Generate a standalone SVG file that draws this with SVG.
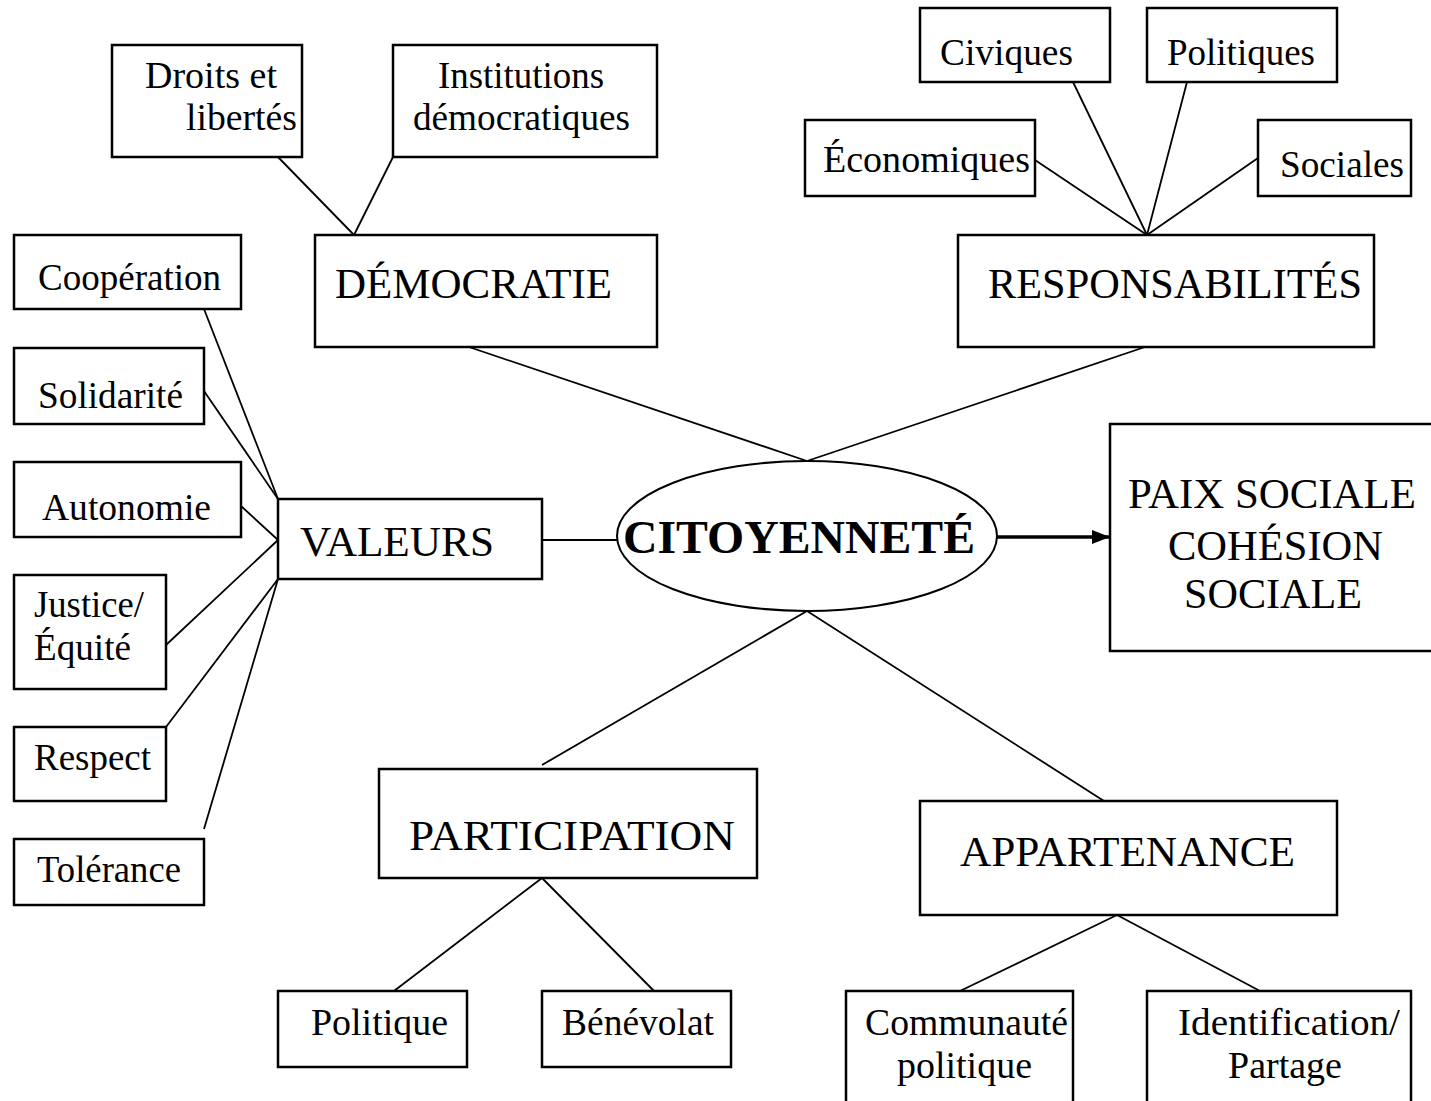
<svg xmlns="http://www.w3.org/2000/svg" width="1431" height="1101" viewBox="0 0 1431 1101">
<style>
.box{fill:#fff;stroke:#000;stroke-width:2.5}
.t{font-family:"Liberation Serif","Times New Roman",serif;font-size:38px;fill:#000}
.c{font-family:"Liberation Serif","Times New Roman",serif;font-size:42px;fill:#000}
.b{font-family:"Liberation Serif","Times New Roman",serif;font-size:46px;font-weight:bold;fill:#000}
.ln{stroke:#000;stroke-width:1.8;fill:none}
</style>
<defs>
<marker id="ah" markerWidth="18" markerHeight="14" refX="18" refY="7" orient="auto" markerUnits="userSpaceOnUse" viewBox="0 0 18 14">
<path d="M0,0 L18,7 L0,14 Z" fill="#000"/>
</marker>
</defs>
<rect width="1431" height="1101" fill="#fff"/>
<g id="connectors">
<line class="ln" x1="278" y1="157" x2="354" y2="235"/>
<line class="ln" x1="393" y1="157" x2="354" y2="235"/>
<line class="ln" x1="469" y1="347" x2="807" y2="461"/>
<line class="ln" x1="1145" y1="347" x2="807" y2="461"/>
<line class="ln" x1="1035" y1="160" x2="1147" y2="235"/>
<line class="ln" x1="1073" y1="82" x2="1147" y2="235"/>
<line class="ln" x1="1187" y1="82" x2="1147" y2="235"/>
<line class="ln" x1="1258" y1="158" x2="1147" y2="235"/>
<line class="ln" x1="204" y1="309" x2="278" y2="499"/>
<line class="ln" x1="204" y1="391" x2="278" y2="499"/>
<line class="ln" x1="241" y1="506" x2="278" y2="540"/>
<line class="ln" x1="166" y1="645" x2="278" y2="540"/>
<line class="ln" x1="166" y1="727" x2="278" y2="579"/>
<line class="ln" x1="204" y1="829" x2="278" y2="579"/>
<line class="ln" x1="542" y1="540" x2="617" y2="540"/>
<line class="ln" x1="807" y1="611" x2="542" y2="765"/>
<line class="ln" x1="807" y1="611" x2="1104" y2="801"/>
<line class="ln" x1="542" y1="878" x2="394" y2="991"/>
<line class="ln" x1="542" y1="878" x2="654" y2="991"/>
<line class="ln" x1="1117" y1="915" x2="960" y2="991"/>
<line class="ln" x1="1117" y1="915" x2="1260" y2="991"/>
<line x1="997" y1="537" x2="1110" y2="537" stroke="#000" stroke-width="3.5" marker-end="url(#ah)"/>
</g>
<g id="droits"><rect class="box" x="112" y="45" width="190" height="112"/>
<text class="t" x="145" y="88" textLength="132" lengthAdjust="spacingAndGlyphs">Droits et</text>
<text class="t" x="186" y="130" textLength="111" lengthAdjust="spacingAndGlyphs">libertés</text></g>
<g id="institutions"><rect class="box" x="393" y="45" width="264" height="112"/>
<text class="t" x="438" y="88" textLength="166" lengthAdjust="spacingAndGlyphs">Institutions</text>
<text class="t" x="413" y="130" textLength="217" lengthAdjust="spacingAndGlyphs">démocratiques</text></g>
<g id="democratie"><rect class="box" x="315" y="235" width="342" height="112"/>
<text class="c" x="335" y="298" textLength="277" lengthAdjust="spacingAndGlyphs">DÉMOCRATIE</text></g>
<g id="civiques"><rect class="box" x="920" y="8" width="190" height="74"/>
<text class="t" x="940" y="65" textLength="133" lengthAdjust="spacingAndGlyphs">Civiques</text></g>
<g id="politiques"><rect class="box" x="1147" y="8" width="190" height="74"/>
<text class="t" x="1167" y="65" textLength="148" lengthAdjust="spacingAndGlyphs">Politiques</text></g>
<g id="economiques"><rect class="box" x="805" y="120" width="230" height="76"/>
<text class="t" x="823" y="172" textLength="207" lengthAdjust="spacingAndGlyphs">Économiques</text></g>
<g id="sociales"><rect class="box" x="1258" y="120" width="153" height="76"/>
<text class="t" x="1280" y="177" textLength="124" lengthAdjust="spacingAndGlyphs">Sociales</text></g>
<g id="responsabilites"><rect class="box" x="958" y="235" width="416" height="112"/>
<text class="c" x="988" y="298" textLength="374" lengthAdjust="spacingAndGlyphs">RESPONSABILITÉS</text></g>
<g id="cooperation"><rect class="box" x="14" y="235" width="227" height="74"/>
<text class="t" x="38" y="290" textLength="183" lengthAdjust="spacingAndGlyphs">Coopération</text></g>
<g id="solidarite"><rect class="box" x="14" y="348" width="190" height="76"/>
<text class="t" x="38" y="408" textLength="145" lengthAdjust="spacingAndGlyphs">Solidarité</text></g>
<g id="autonomie"><rect class="box" x="14" y="462" width="227" height="75"/>
<text class="t" x="42" y="520" textLength="169" lengthAdjust="spacingAndGlyphs">Autonomie</text></g>
<g id="justice"><rect class="box" x="14" y="575" width="152" height="114"/>
<text class="t" x="34" y="617" textLength="110" lengthAdjust="spacingAndGlyphs">Justice/</text>
<text class="t" x="34" y="660" textLength="97" lengthAdjust="spacingAndGlyphs">Équité</text></g>
<g id="respect"><rect class="box" x="14" y="727" width="152" height="74"/>
<text class="t" x="34" y="770" textLength="117" lengthAdjust="spacingAndGlyphs">Respect</text></g>
<g id="tolerance"><rect class="box" x="14" y="839" width="190" height="66"/>
<text class="t" x="37" y="882" textLength="144" lengthAdjust="spacingAndGlyphs">Tolérance</text></g>
<g id="valeurs"><rect class="box" x="278" y="499" width="264" height="80"/>
<text class="c" x="300" y="556" textLength="194" lengthAdjust="spacingAndGlyphs">VALEURS</text></g>
<g id="citoyennete"><ellipse cx="807" cy="536" rx="190" ry="75" fill="#fff" stroke="#000" stroke-width="2"/>
<text class="b" x="623" y="553" textLength="352" lengthAdjust="spacingAndGlyphs">CITOYENNETÉ</text></g>
<g id="paix"><rect class="box" x="1110" y="424" width="330" height="227"/>
<text class="c" x="1128" y="508" textLength="288" lengthAdjust="spacingAndGlyphs">PAIX SOCIALE</text>
<text class="c" x="1168" y="560" textLength="215" lengthAdjust="spacingAndGlyphs">COHÉSION</text>
<text class="c" x="1184" y="608" textLength="178" lengthAdjust="spacingAndGlyphs">SOCIALE</text></g>
<g id="participation"><rect class="box" x="379" y="769" width="378" height="109"/>
<text class="c" x="409" y="850" textLength="326" lengthAdjust="spacingAndGlyphs">PARTICIPATION</text></g>
<g id="politique"><rect class="box" x="278" y="991" width="189" height="76"/>
<text class="t" x="311" y="1035" textLength="137" lengthAdjust="spacingAndGlyphs">Politique</text></g>
<g id="benevolat"><rect class="box" x="542" y="991" width="189" height="76"/>
<text class="t" x="562" y="1035" textLength="152" lengthAdjust="spacingAndGlyphs">Bénévolat</text></g>
<g id="appartenance"><rect class="box" x="920" y="801" width="417" height="114"/>
<text class="c" x="960" y="866" textLength="335" lengthAdjust="spacingAndGlyphs">APPARTENANCE</text></g>
<g id="communaute"><rect class="box" x="846" y="991" width="227" height="130"/>
<text class="t" x="865" y="1035" textLength="203" lengthAdjust="spacingAndGlyphs">Communauté</text>
<text class="t" x="897" y="1078" textLength="135" lengthAdjust="spacingAndGlyphs">politique</text></g>
<g id="identification"><rect class="box" x="1147" y="991" width="264" height="130"/>
<text class="t" x="1178" y="1035" textLength="222" lengthAdjust="spacingAndGlyphs">Identification/</text>
<text class="t" x="1228" y="1078" textLength="114" lengthAdjust="spacingAndGlyphs">Partage</text></g>
</svg>
